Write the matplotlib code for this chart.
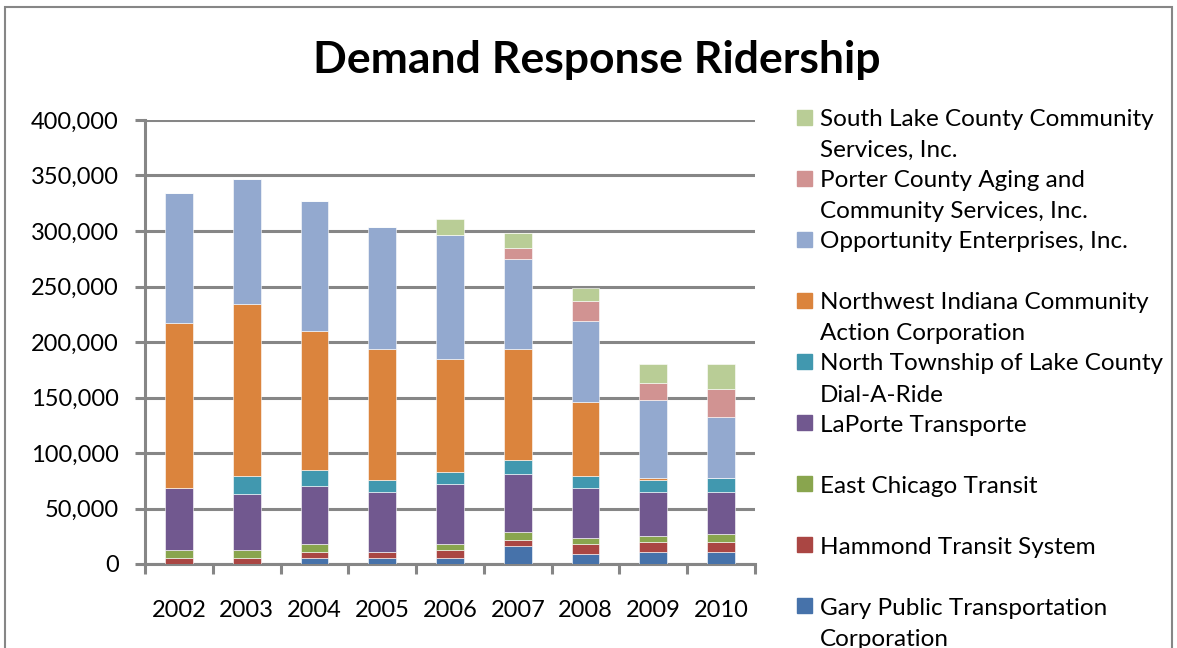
import matplotlib
matplotlib.use('Agg')
import matplotlib.pyplot as plt
from matplotlib.patches import Rectangle
from matplotlib.ticker import FuncFormatter, FixedLocator
import numpy as np

plt.rcParams['font.family'] = ['Lato', 'DejaVu Sans']

# data (riders per year)
years = ['2002', '2003', '2004', '2005', '2006', '2007', '2008', '2009', '2010']

gary = [0, 0, 5500, 5000, 5000, 16500, 9300, 11000, 11000]
hammond = [5000, 5000, 5500, 6000, 8000, 5400, 9000, 9000, 9000]
east_chicago = [7500, 7500, 7300, 0, 5300, 7200, 5400, 5500, 7300]
laporte = [55700, 50500, 51700, 54000, 53500, 51700, 44500, 39500, 37700]
north_township = [0, 16000, 14700, 10700, 10800, 12900, 11100, 10700, 12500]
nw_indiana = [148500, 155600, 124800, 117700, 102400, 100300, 66300, 1800, 0]
opportunity = [117300, 112400, 117500, 110600, 111800, 80800, 73400, 70000, 55200]
porter = [0, 0, 0, 0, 0, 10200, 18000, 15500, 25300]
south_lake = [0, 0, 0, 0, 14200, 13000, 12000, 17000, 22000]

series_names = ['Gary Public Transportation\nCorporation',
                'Hammond Transit System',
                'East Chicago Transit',
                'LaPorte Transporte',
                'North Township of Lake County\nDial-A-Ride',
                'Northwest Indiana Community\nAction Corporation',
                'Opportunity Enterprises, Inc.',
                'Porter County Aging and\nCommunity Services, Inc.',
                'South Lake County Community\nServices, Inc.']
series_vals = [gary, hammond, east_chicago, laporte, north_township,
               nw_indiana, opportunity, porter, south_lake]
colors = ['#4672AA', '#AA4643', '#89A54E', '#71588F', '#4198AF',
          '#DB843D', '#93A9CF', '#D19392', '#B9CD96']

W, H = 1177, 648
fig = plt.figure(figsize=(W / 100, H / 100), dpi=100)

# outer chart frame
fig.patches.append(Rectangle((5 / W, -0.05), (1172 - 5) / W, 1.05 - 7 / H,
                             transform=fig.transFigure, fill=False,
                             edgecolor='#868686', linewidth=1.5))

ax = fig.add_axes([145 / W, (H - 564) / H, 610 / W, 444 / H])

x = np.arange(len(years))
bottom = np.zeros(len(years))
for name, vals, col in zip(series_names, series_vals, colors):
    ax.bar(x, vals, 0.41, bottom=bottom, color=col, edgecolor='white',
           linewidth=0.4, zorder=3, label=name)
    bottom += np.array(vals)

grid_grey = '#868686'
ax.set_xlim(-0.5, len(years) - 0.5)
ax.set_ylim(0, 400000)
ax.set_yticks(np.arange(0, 400001, 50000))
ax.yaxis.set_major_formatter(FuncFormatter(lambda v, p: f'{int(v):,}'))
ax.yaxis.grid(True, color=grid_grey, linewidth=2.2, zorder=0)
ax.set_axisbelow(True)

ax.set_xticks(x)
ax.set_xticklabels(years)
ax.xaxis.set_minor_locator(FixedLocator(np.arange(-0.5, len(years), 1.0)))
ax.tick_params(axis='x', which='major', length=0, pad=26, labelsize=17)
ax.tick_params(axis='x', which='minor', length=7, width=2.2, color=grid_grey)
ax.tick_params(axis='y', length=7, width=2.2, color=grid_grey, pad=12,
               labelsize=17)

for s in ['top', 'right']:
    ax.spines[s].set_visible(False)
for s in ['left', 'bottom']:
    ax.spines[s].set_color(grid_grey)
    ax.spines[s].set_linewidth(2.2)

fig.text(597 / W, 1 - 60 / H, 'Demand Response Ridership', ha='center',
         va='center', fontsize=32, fontweight='bold')

# legend, reversed like the original, fixed row spacing
for i, (name, col) in enumerate(zip(series_names[::-1], colors[::-1])):
    yc = 117 + i * 61.1
    fig.patches.append(Rectangle((797 / W, 1 - (yc + 7.5) / H), 15 / W, 15 / H,
                                 transform=fig.transFigure, color=col))
    fig.text(820 / W, 1 - (yc - 8) / H, name, ha='left', va='top',
             fontsize=17.5, linespacing=1.6)

fig.savefig('out.png', dpi=100)
